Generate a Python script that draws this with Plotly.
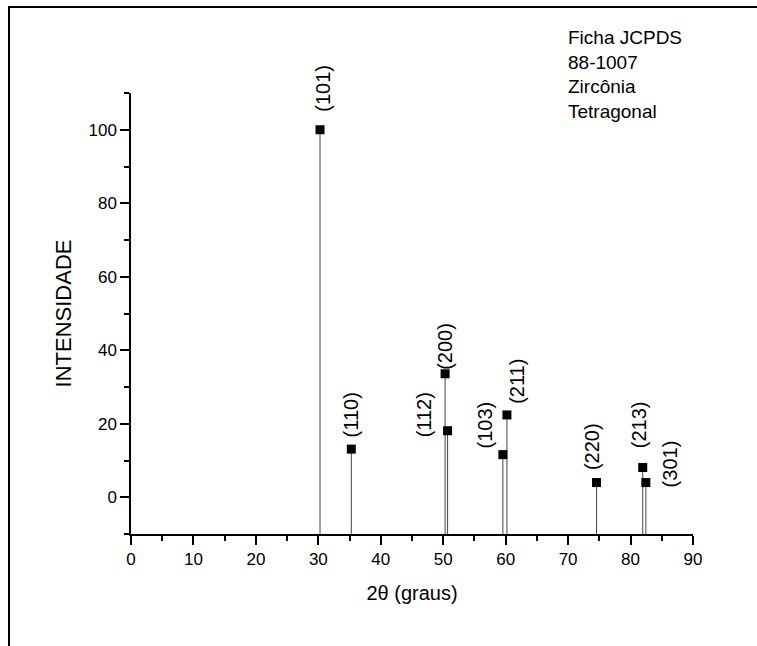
import plotly.graph_objects as go

# Data: JCPDS 88-1007 tetragonal zirconia
two_theta = [30.27, 35.28, 50.30, 50.70, 59.55, 60.20, 74.55, 81.95, 82.45]
intensity = [100, 13.1, 33.6, 18.1, 11.6, 22.4, 4.0, 8.1, 4.0]
hkl = ['(101)', '(110)', '(200)', '(112)', '(103)', '(211)', '(220)', '(213)', '(301)']
# label offsets in pixels (style)
lab_dx = [3, 0, 0, -24, -18, 10, -5, -3, 24]
lab_dy = [41, 34, 27, 16, 30, 34, 36, 43, 19]

x_ticks = list(range(0, 91, 10))
y_ticks = list(range(0, 101, 20))
y_min, y_max = -10, 110

W_FIG, H_FIG = 757, 646
L, R, T, B = 131, 64, 93, 112
pw = W_FIG - L - R
ph = H_FIG - T - B

font_family = "Liberation Sans, Arial, Helvetica, sans-serif"

fig = go.Figure()

# stems
sx, sy = [], []
for x, y in zip(two_theta, intensity):
    sx += [x, x, None]
    sy += [y, y_min, None]
fig.add_trace(go.Scatter(x=sx, y=sy, mode='lines',
                         line=dict(color='#444444', width=1),
                         hoverinfo='skip', showlegend=False))
fig.add_trace(go.Scatter(x=two_theta, y=intensity, mode='markers',
                         marker=dict(symbol='square', size=9, color='black'),
                         showlegend=False, cliponaxis=False))

for x, y, t, dx, dy in zip(two_theta, intensity, hkl, lab_dx, lab_dy):
    fig.add_annotation(x=x, y=y, xref='x', yref='y', text=t, showarrow=False,
                       textangle=-90, xshift=dx, yshift=dy,
                       xanchor='center', yanchor='middle',
                       font=dict(size=20, color='black', family=font_family))

fig.add_annotation(x=(566 - L) / pw, y=(T - 25) / ph + 1, xref='paper', yref='paper',
                   text='Ficha JCPDS<br>88-1007<br>Zircônia<br>Tetragonal',
                   showarrow=False, align='left', xanchor='left', yanchor='top',
                   font=dict(size=19, color='black', family=font_family))

# outer frame (left and top edges)
fx = (9 - L) / pw
fy = 1 + (T - 7) / ph
fig.add_shape(type='rect', xref='paper', yref='paper',
              x0=fx, x1=1 + (R + 20) / pw, y0=-(B + 20) / ph, y1=fy,
              line=dict(color='black', width=2), fillcolor='rgba(0,0,0,0)', layer='above')

fig.update_layout(
    width=W_FIG, height=H_FIG,
    margin=dict(l=L, r=R, t=T, b=B, autoexpand=False),
    plot_bgcolor='white', paper_bgcolor='white',
    font=dict(family=font_family, color='black'),
    xaxis=dict(range=[0, 90], tickvals=x_ticks, ticktext=[str(v) for v in x_ticks],
               showline=True, linecolor='black', linewidth=1.5, mirror=False,
               ticks='outside', ticklen=9, tickwidth=1.5, tickcolor='black',
               minor=dict(dtick=5, tick0=0, ticks='outside', ticklen=5, tickwidth=1.5, tickcolor='black'),
               showgrid=False, zeroline=False,
               tickfont=dict(size=17),
               title=dict(text='2θ (graus)', font=dict(size=20), standoff=18)),
    yaxis=dict(range=[y_min, y_max], tickvals=y_ticks, ticktext=[str(v) for v in y_ticks],
               showline=True, linecolor='black', linewidth=1.5, mirror=False,
               ticks='outside', ticklen=9, tickwidth=1.5, tickcolor='black',
               minor=dict(dtick=10, tick0=0, ticks='outside', ticklen=5, tickwidth=1.5, tickcolor='black'),
               showgrid=False, zeroline=False,
               tickfont=dict(size=17),
               title=dict(text='INTENSIDADE', font=dict(size=22), standoff=11)),
)

fig.write_html("out.html", config={'displayModeBar': False},
               post_script="document.body.style.margin='0';document.body.style.overflow='hidden';")
